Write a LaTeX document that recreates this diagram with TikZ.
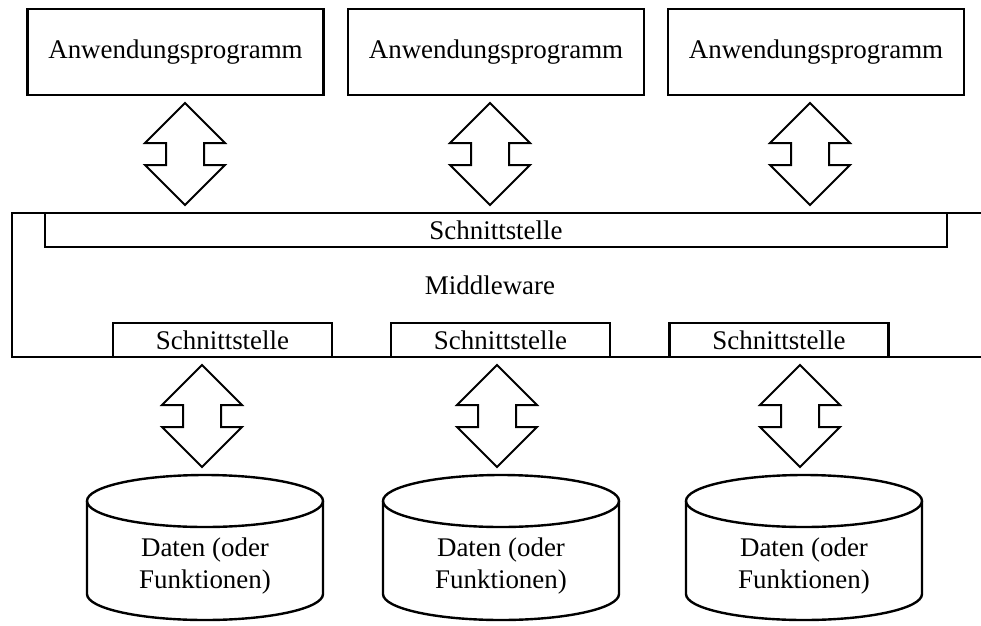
\documentclass[tikz,border=0pt]{standalone}
\usepackage{fontspec}
\setmainfont{Liberation Serif}
\tikzset{%
	app/.style      = {draw, line width = 2pt, rectangle, minimum height = 64.5pt, minimum width = 222pt}, % Anwendung
	iface/.style    = {draw, line width = 2pt, rectangle, minimum height = 25.5pt, minimum width = 164.25pt, inner sep = 0pt}, % Schnittstelle
	wideiface/.style= {iface, minimum width = 676.5pt}, % obere Schnittstelle
	frame/.style    = {line width = 2pt}, % Middleware
	blockarrow/.style = {draw, line width = 1.5pt, line join = miter}, % Doppelpfeil
	dbline/.style   = {line width = 1.8pt}, % Datenbank
	dbtext/.style   = {align = center, font = \fontsize{20.2}{24}\selectfont}
}
% block double arrow from upper tip #1 to lower tip #2
\newcommand{\dblarrow}[2]{%
	\draw[blockarrow] (#1) -- ++(40,40) -- ++(-21,0) -- ++(0,22) -- ++(21,0) -- (#2)
		-- ++(-40,-40) -- ++(21,0) -- ++(0,-22) -- ++(-21,0) -- cycle;}
% cylinder with name #1 at centre x #2
\newcommand{\datastore}[2]{%
	\node[dbtext] (#1) at (#2,566) {Daten (oder\\Funktionen)};
	\draw[dbline] (#2-118,501) -- (#2-118,594)
		arc[start angle=180, end angle=0, x radius=118, y radius=26] -- (#2+118,501);
	\draw[dbline] (#2,501) ellipse[x radius=118, y radius=26];}

\begin{document}
\begin{tikzpicture}[x=0.75pt, y=-0.75pt, font=\fontsize{20.2}{24}\selectfont]
	\useasboundingbox (0,0) rectangle (981,625);
	\draw % Anwendungen und Schnittstellen
	node at (175.5,52) [app] (app1) {Anwendungsprogramm}
	node at (496,52) [app] (app2) {Anwendungsprogramm}
	node at (816,52) [app] (app3) {Anwendungsprogramm}
	node at (496,230) [wideiface] (iftop) {Schnittstelle}
	node at (490,285) (mw) {Middleware}
	node at (222.5,340) [iface] (if1) {Schnittstelle}
	node at (500.5,340) [iface] (if2) {Schnittstelle}
	node at (779,340) [iface] (if3) {Schnittstelle}
	;

	% Middleware-Rahmen (rechts offen)
	\coordinate (mwtr) at (981,213);
	\coordinate (mwbr) at (981,357);
	\draw[frame] (mwtr) -- (12,213) -- (12,357) -- (mwbr);

	% Pfeile oben
	\coordinate (a1) at (185,103);  \coordinate (b1) at (185,205);
	\coordinate (a2) at (490,103);  \coordinate (b2) at (490,205);
	\coordinate (a3) at (810,103);  \coordinate (b3) at (810,205);
	\dblarrow{a1}{b1}
	\dblarrow{a2}{b2}
	\dblarrow{a3}{b3}

	% Pfeile unten
	\coordinate (c1) at (202,365);  \coordinate (d1) at (202,467);
	\coordinate (c2) at (497,365);  \coordinate (d2) at (497,467);
	\coordinate (c3) at (800,365);  \coordinate (d3) at (800,467);
	\dblarrow{c1}{d1}
	\dblarrow{c2}{d2}
	\dblarrow{c3}{d3}

	% Daten
	\datastore{db1}{205}
	\datastore{db2}{501}
	\datastore{db3}{804}
\end{tikzpicture}
\end{document}
